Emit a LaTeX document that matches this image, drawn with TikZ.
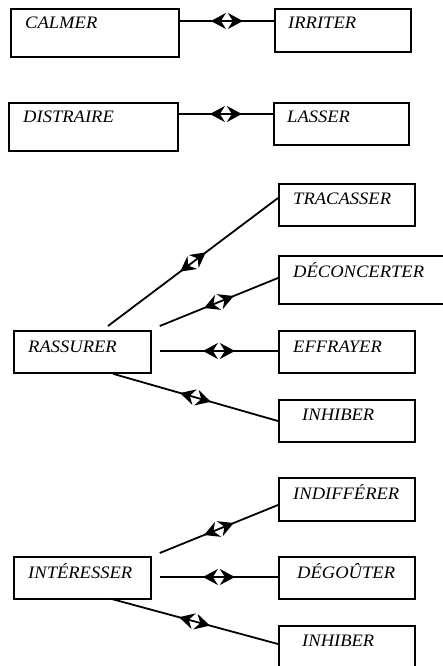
\documentclass[tikz,border=0pt]{standalone}
\usepackage{fontspec}
\setmainfont{Liberation Serif}
\usetikzlibrary{arrows.meta,decorations.markings,calc}
\newcommand\wlbl[1]{\scalebox{1.06}[1]{#1}}
\tikzset{
  box/.style={draw, line width=1.8pt, rectangle, inner sep=0pt, anchor=north west},
  lbl/.style={anchor=base west, inner sep=0pt, font=\fontsize{17.5}{20}\selectfont\itshape},
  link/.style={line width=1.8pt, postaction={decorate},
    decoration={markings, mark=at position 0.5 with {
      \begin{scope}[xshift=16pt]\arrow{Stealth[length=15pt,width=16pt,inset=5pt]}\end{scope}
      \begin{scope}[xshift=-16pt]\arrowreversed{Stealth[length=15pt,width=16pt,inset=5pt]}\end{scope}}}}
}
\begin{document}
\begin{tikzpicture}[x=1pt,y=-1pt]
\useasboundingbox (0,0) rectangle (443,666);
\clip (0,0) rectangle (443,666);
% boxes
\node[box, minimum width=168pt, minimum height=48pt] (calmer) at (10,8) {};
\node[box, minimum width=136pt, minimum height=43pt] (irriter) at (274,8) {};
\node[box, minimum width=169pt, minimum height=48pt] (distraire) at (8,102) {};
\node[box, minimum width=135pt, minimum height=42pt] (lasser) at (273,102) {};
\node[box, minimum width=136pt, minimum height=42pt] (tracasser) at (278,183) {};
\node[box, minimum width=170pt, minimum height=48pt] (deconcerter) at (278,255) {};
\node[box, minimum width=137pt, minimum height=42pt] (rassurer) at (13,330) {};
\node[box, minimum width=136pt, minimum height=42pt] (effrayer) at (278,330) {};
\node[box, minimum width=136pt, minimum height=42pt] (inhiberA) at (278,399) {};
\node[box, minimum width=136pt, minimum height=43pt] (indifferer) at (278,477) {};
\node[box, minimum width=137pt, minimum height=42pt] (interesser) at (13,556) {};
\node[box, minimum width=136pt, minimum height=42pt] (degouter) at (278,556) {};
\node[box, minimum width=136pt, minimum height=48pt] (inhiberB) at (278,625) {};
% labels
\node[lbl] (calmer-t) at ($(calmer.north west)+(15,21)$) {\wlbl{CALMER}};
\node[lbl] (irriter-t) at ($(irriter.north west)+(14,21)$) {\wlbl{IRRITER}};
\node[lbl] (distraire-t) at ($(distraire.north west)+(15,20)$) {\wlbl{DISTRAIRE}};
\node[lbl] (lasser-t) at ($(lasser.north west)+(14,20)$) {\wlbl{LASSER}};
\node[lbl] (tracasser-t) at ($(tracasser.north west)+(15,21)$) {\wlbl{TRACASSER}};
\node[lbl] (deconcerter-t) at ($(deconcerter.north west)+(15,22)$) {\wlbl{DÉCONCERTER}};
\node[lbl] (rassurer-t) at ($(rassurer.north west)+(15,22)$) {\wlbl{RASSURER}};
\node[lbl] (effrayer-t) at ($(effrayer.north west)+(15,22)$) {\wlbl{EFFRAYER}};
\node[lbl] (inhiberA-t) at ($(inhiberA.north west)+(24,21)$) {\wlbl{INHIBER}};
\node[lbl] (indifferer-t) at ($(indifferer.north west)+(15,22)$) {\wlbl{INDIFFÉRER}};
\node[lbl] (interesser-t) at ($(interesser.north west)+(15,22)$) {\wlbl{INTÉRESSER}};
\node[lbl] (degouter-t) at ($(degouter.north west)+(19,22)$) {\wlbl{DÉGOÛTER}};
\node[lbl] (inhiberB-t) at ($(inhiberB.north west)+(24,21)$) {\wlbl{INHIBER}};
% connectors
\draw[link] ($(calmer.north east)+(0,13)$) -- ($(irriter.north west)+(0,13)$);
\draw[link] ($(distraire.north east)+(0,12)$) -- ($(lasser.north west)+(0,12)$);
\draw[link] ($(rassurer.north west)+(95,-4)$) -- ($(tracasser.north west)+(0,15)$);
\draw[link] ($(rassurer.north east)+(8,-4)$) -- ($(deconcerter.north west)+(0,23)$);
\draw[link] ($(rassurer.north east)+(8,21)$) -- ($(effrayer.north west)+(0,21)$);
\draw[link] ($(rassurer.south west)+(100,0)$) -- ($(inhiberA.north west)+(0,22)$);
\draw[link] ($(interesser.north east)+(8,-3)$) -- ($(indifferer.north west)+(0,28)$);
\draw[link] ($(interesser.north east)+(8,21)$) -- ($(degouter.north west)+(0,21)$);
\draw[link] ($(interesser.south west)+(98,-1)$) -- ($(inhiberB.north west)+(0,19)$);
\end{tikzpicture}
\end{document}
